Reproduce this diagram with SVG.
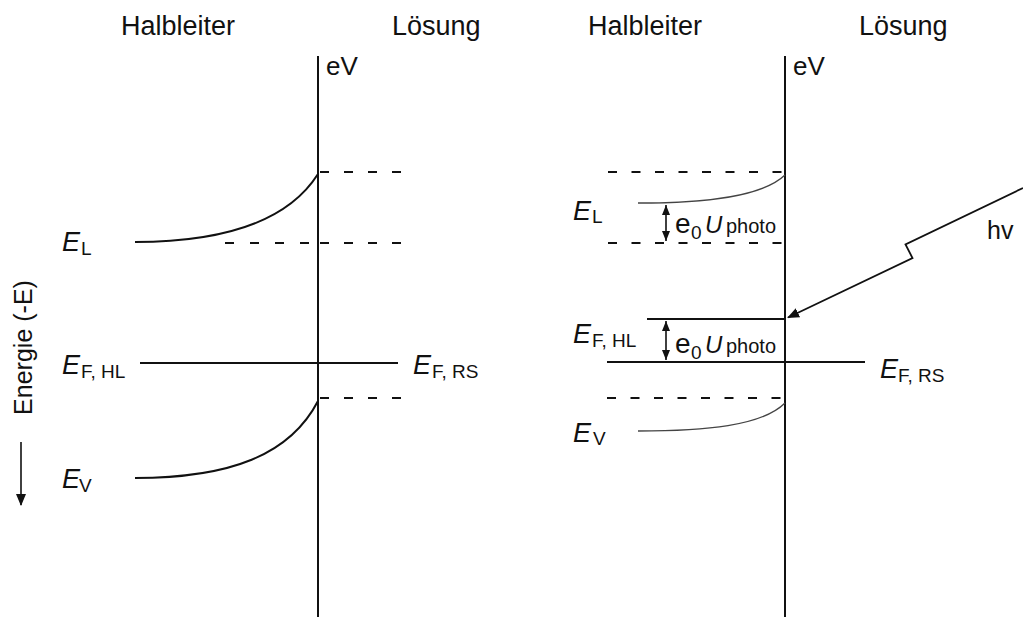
<svg xmlns="http://www.w3.org/2000/svg" width="1023" height="617" viewBox="0 0 1023 617">
<style>
.t{font-family:"Liberation Sans",Arial,sans-serif;fill:#111}
.h{font-size:27px}
.ev{font-size:26px}
.E{font-size:27px;font-style:italic}
.s{font-size:19px}
.ln{stroke:#111;stroke-width:2;fill:none}
.thin{stroke:#444;stroke-width:1.3;fill:none}
.d{stroke:#111;stroke-width:2;stroke-dasharray:9 15;fill:none}
.d2{stroke:#111;stroke-width:2;stroke-dasharray:9 14.5;fill:none}
</style>
<defs>
<marker id="ah" viewBox="0 0 12 10" refX="11" refY="5" markerWidth="12" markerHeight="10" markerUnits="userSpaceOnUse" orient="auto-start-reverse">
<path d="M0,0 L12,5 L0,10 Z" fill="#111"/>
</marker>
<marker id="ahs" viewBox="0 0 10 8" refX="10" refY="4" markerWidth="10" markerHeight="8" markerUnits="userSpaceOnUse" orient="auto-start-reverse">
<path d="M0,0 L10,4 L0,8 Z" fill="#111"/>
</marker>
</defs>
<rect width="1023" height="617" fill="#fff"/>

<g id="left-panel">
<text class="t h" x="121" y="35">Halbleiter</text>
<text class="t h" x="392" y="35">Lösung</text>
<text class="t ev" x="326" y="75">eV</text>
<line class="ln" x1="318" y1="56" x2="318" y2="617"/>
<line class="d" x1="320" y1="172" x2="402" y2="172"/>
<path class="ln" d="M135,242 C230,242 290,218 318,174"/>
<line class="d" x1="225" y1="243" x2="310" y2="243" style="stroke-dasharray:9 16"/>
<line class="d" x1="320" y1="243" x2="402" y2="243"/>
<line class="ln" x1="140" y1="363" x2="398" y2="363"/>
<line class="d" x1="320" y1="398" x2="402" y2="398"/>
<path class="ln" d="M135,478 C230,478 290,455 318,401"/>
</g>

<g id="left-labels">
<text class="t E" x="62" y="251">E</text><text class="t s" x="81" y="255">L</text>
<text class="t E" x="62" y="374">E</text><text class="t s" x="81" y="378">F, HL</text>
<text class="t E" x="413" y="374">E</text><text class="t s" x="432" y="378">F, RS</text>
<text class="t E" x="62" y="488">E</text><text class="t s" x="79" y="492">V</text>
</g>

<g id="energy-axis">
<text class="t" font-size="25" text-anchor="middle" transform="translate(32,347.5) rotate(-90)">Energie (-E)</text>
<line class="ln" x1="21" y1="442" x2="21" y2="505" style="stroke-width:1.6" marker-end="url(#ah)"/>
</g>

<g id="right-panel">
<text class="t h" x="588" y="35">Halbleiter</text>
<text class="t h" x="859" y="35">Lösung</text>
<text class="t ev" x="793" y="75">eV</text>
<line class="ln" x1="785" y1="56" x2="785" y2="617"/>
<line class="d2" x1="608" y1="172" x2="785" y2="172"/>
<path class="thin" d="M638,203 C705,203 762,197 785,175"/>
<line class="d2" x1="608" y1="243" x2="785" y2="243"/>
<line class="ln" x1="647" y1="319" x2="785" y2="319"/>
<line class="ln" x1="607" y1="362" x2="865" y2="362"/>
<line class="d2" x1="607" y1="398" x2="785" y2="398"/>
<path class="thin" d="M638,431 C705,431 762,426 785,403"/>
</g>

<g id="right-labels">
<text class="t E" x="573" y="220">E</text><text class="t s" x="592" y="223">L</text>
<text class="t E" x="573" y="343">E</text><text class="t s" x="592" y="347">F, HL</text>
<text class="t E" x="880" y="378">E</text><text class="t s" x="898" y="382">F, RS</text>
<text class="t E" x="573" y="442">E</text><text class="t s" x="593" y="445">V</text>
</g>

<g id="photovoltage-1">
<line class="ln" x1="666" y1="205" x2="666" y2="241" style="stroke-width:1.6" marker-start="url(#ahs)" marker-end="url(#ahs)"/>
<text class="t" font-size="28" x="675" y="233">e</text>
<text class="t" font-size="19" x="691" y="239">0</text>
<text class="t" font-size="24" font-style="italic" x="705" y="233">U</text>
<text class="t" font-size="20" x="726" y="233">photo</text>
</g>

<g id="photovoltage-2">
<line class="ln" x1="666" y1="321" x2="666" y2="360" style="stroke-width:1.6" marker-start="url(#ahs)" marker-end="url(#ahs)"/>
<text class="t" font-size="28" x="675" y="353">e</text>
<text class="t" font-size="19" x="691" y="359">0</text>
<text class="t" font-size="24" font-style="italic" x="705" y="353">U</text>
<text class="t" font-size="20" x="726" y="353">photo</text>
</g>

<g id="connectors">
<polyline class="ln" points="1023,188 905.5,244.5 912.5,258 788,317.5" style="stroke-width:1.8;stroke-linejoin:miter" marker-end="url(#ah)"/>
</g>
<text class="t" font-size="25" x="987" y="239">hv</text>
</svg>
